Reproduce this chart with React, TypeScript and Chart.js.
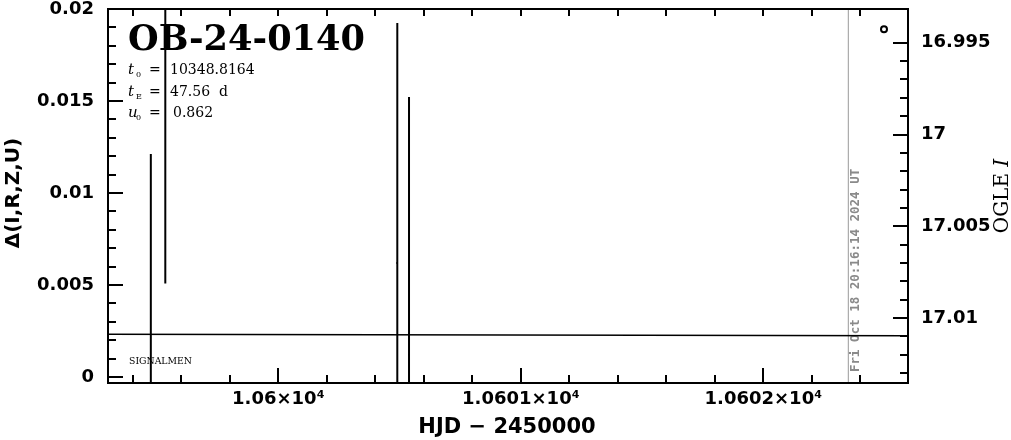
import React, { useEffect, useRef } from "react";
import { Chart, registerables } from "chart.js";

Chart.register(...registerables);

// Axis ranges
const X_MIN = 10599.2977;
const X_MAX = 10602.5967;
const Y_MIN = -0.000326;
const Y_MAX = 0.02;
const I_MIN = 16.99316;
const I_MAX = 17.01354;

// Tick values / labels
const X_TICKS = [10600, 10601, 10602];
const X_TICK_LABELS = ["1.06×10⁴", "1.0601×10⁴", "1.0602×10⁴"];
const Y_TICKS = [0, 0.005, 0.01, 0.015, 0.02];
const Y_TICK_LABELS = ["0", "0.005", "0.01", "0.015", "0.02"];
const I_TICKS = [16.995, 17, 17.005, 17.01];
const I_TICK_LABELS = ["16.995", "17", "17.005", "17.01"];

// SIGNALMEN error bars (Δ)
const BAR_HJD = [10599.4743, 10599.534, 10600.4907, 10600.539];
const BAR_LOW = [-0.012, 0.00508, -0.0068, -0.0128];
const BAR_HIGH = [0.01212, 0.03, 0.01924, 0.01522];
const MARK_HJD = [10600.4893, 10600.5377];
const MARK_DELTA = [0.0062, 0.0012];

// Model curve (OGLE I)
const MODEL_HJD = [10599.2977, 10600.95, 10602.5967];
const MODEL_I = [17.01088, 17.01093, 17.01097];

// OGLE data
const OGLE_HJD = [10602.4977];
const OGLE_I = [16.99427];

// Current time marker
const NOW_HJD = 10602.3505;
const NOW_LABEL = "Fri Oct 18 20:16:14 2024 UT";

const TITLE = "OB-24-0140";
const PARAM_SYMBOLS = ["t", "t", "u"];
const PARAM_SUBS = ["0", "E", "0"];
const PARAM_VALUES = ["10348.8164", "47.56  d", "0.862"];
const SURVEY = "SIGNALMEN";

const decorPlugin = {
  id: "decor",
  beforeDatasetsDraw(chart: any) {
    const { ctx, chartArea: a, scales } = chart;
    const px = scales.x.getPixelForValue(NOW_HJD);
    ctx.save();
    ctx.strokeStyle = "#999999";
    ctx.lineWidth = 1;
    ctx.beginPath();
    ctx.moveTo(px, a.top);
    ctx.lineTo(px, a.bottom);
    ctx.stroke();
    ctx.translate(px + 7, a.bottom - 11);
    ctx.rotate(-Math.PI / 2);
    ctx.fillStyle = "#8a8a8a";
    ctx.font = "bold 12.5px 'DejaVu Sans Mono'";
    ctx.textAlign = "left";
    ctx.textBaseline = "middle";
    ctx.fillText(NOW_LABEL, 0, 0);
    ctx.restore();
  },
  afterDatasetsDraw(chart: any) {
    const { ctx, chartArea: a, scales } = chart;
    const xs = scales.x;
    const ys = scales.y;
    const is = scales.y2;
    ctx.save();
    ctx.strokeStyle = "#000";
    ctx.lineWidth = 2;
    for (let k = Math.ceil(X_MIN / 0.2); k * 0.2 <= X_MAX; k++) {
      const v = k * 0.2;
      const p = Math.round(xs.getPixelForValue(v));
      const major = k % 5 === 0;
      ctx.beginPath();
      ctx.moveTo(p, a.bottom);
      ctx.lineTo(p, a.bottom - (major ? 15 : 8));
      ctx.moveTo(p, a.top);
      ctx.lineTo(p, a.top + 7);
      ctx.stroke();
    }
    for (let k = 0; k <= 20; k++) {
      const p = Math.round(ys.getPixelForValue(k * 0.001));
      const major = k % 5 === 0;
      ctx.beginPath();
      ctx.moveTo(a.left, p);
      ctx.lineTo(a.left + (major ? 15 : 8), p);
      ctx.stroke();
    }
    for (let k = 16995; k <= 17013; k++) {
      const p = Math.round(is.getPixelForValue(k / 1000));
      const major = k % 5 === 0;
      ctx.beginPath();
      ctx.moveTo(a.right, p);
      ctx.lineTo(a.right - (major ? 15 : 8), p);
      ctx.stroke();
    }
    ctx.strokeRect(a.left, a.top, a.right - a.left, a.bottom - a.top);
    ctx.restore();
  },
  afterDraw(chart: any) {
    const { ctx, chartArea: a } = chart;
    ctx.save();
    ctx.fillStyle = "#000";
    ctx.textAlign = "left";
    ctx.textBaseline = "alphabetic";
    ctx.font = "bold 36px 'DejaVu Serif'";
    ctx.fillText(TITLE, a.left + 20, 50, 237);
    const rows = [74, 96, 117];
    for (let i = 0; i < 3; i++) {
      const y = rows[i];
      ctx.font = "italic 15px 'DejaVu Serif'";
      ctx.fillText(PARAM_SYMBOLS[i], 128, y);
      ctx.font = "8px 'DejaVu Serif'";
      ctx.fillText(PARAM_SUBS[i], 136, y + 3);
      ctx.font = "14px 'DejaVu Serif'";
      ctx.fillText("=", 149, y);
      ctx.fillText(PARAM_VALUES[i], i === 2 ? 173 : 170, y);
    }
    ctx.font = "10px 'DejaVu Serif'";
    ctx.fillText(SURVEY, 129, 364, 63);
    ctx.textAlign = "center";
    ctx.textBaseline = "middle";
    ctx.font = "bold 21px 'DejaVu Sans'";
    ctx.fillText("HJD − 2450000", 507, 428);
    ctx.save();
    ctx.translate(14, 193);
    ctx.rotate(-Math.PI / 2);
    ctx.font = "bold 20px 'DejaVu Sans'";
    ctx.fillText("Δ(I,R,Z,U)", 0, 0);
    ctx.restore();
    ctx.save();
    ctx.translate(1003, 196);
    ctx.rotate(-Math.PI / 2);
    ctx.font = "20px 'DejaVu Serif'";
    const w1 = ctx.measureText("OGLE ").width;
    ctx.font = "italic 20px 'DejaVu Serif'";
    const w2 = ctx.measureText("I").width;
    ctx.textAlign = "left";
    ctx.font = "20px 'DejaVu Serif'";
    ctx.fillText("OGLE ", -(w1 + w2) / 2, 0);
    ctx.font = "italic 20px 'DejaVu Serif'";
    ctx.fillText("I", -(w1 + w2) / 2 + w1, 0);
    ctx.restore();
    ctx.restore();
  },
};

const noPad = (s: any) => {
  s.paddingTop = 0;
  s.paddingBottom = 0;
  s.paddingLeft = 0;
  s.paddingRight = 0;
};

export default function App() {
  const ref = useRef<HTMLCanvasElement | null>(null);
  useEffect(() => {
    if (!ref.current) return;
    const datasets: any[] = [];
    BAR_HJD.forEach((h, i) => {
      datasets.push({
        data: [
          { x: h, y: BAR_LOW[i] },
          { x: h, y: BAR_HIGH[i] },
        ],
        showLine: true,
        borderColor: "#000",
        borderWidth: 2,
        pointRadius: 0,
        yAxisID: "y",
      });
    });
    datasets.push({
      data: MARK_HJD.map((h, i) => ({ x: h, y: MARK_DELTA[i] })),
      pointStyle: "rect",
      pointRadius: 1,
      backgroundColor: "#000",
      borderWidth: 0,
      yAxisID: "y",
    });
    datasets.push({
      data: MODEL_HJD.map((h, i) => ({ x: h, y: MODEL_I[i] })),
      showLine: true,
      borderColor: "#000",
      borderWidth: 1.5,
      pointRadius: 0,
      yAxisID: "y2",
    });
    datasets.push({
      data: OGLE_HJD.map((h, i) => ({ x: h, y: OGLE_I[i] })),
      pointStyle: "circle",
      pointRadius: 3,
      borderWidth: 2,
      borderColor: "#000",
      backgroundColor: "rgba(0,0,0,0)",
      yAxisID: "y2",
    });
    const tickFont = { family: "'DejaVu Sans'", size: 18, weight: "bold" as const };
    const chart = new Chart(ref.current, {
      type: "scatter",
      data: { datasets },
      options: {
        animation: false,
        responsive: false,
        maintainAspectRatio: false,
        layout: { padding: { top: 9, left: 0, right: 0, bottom: 0 } },
        plugins: { legend: { display: false }, tooltip: { enabled: false } },
        scales: {
          x: {
            type: "linear",
            position: "bottom",
            min: X_MIN,
            max: X_MAX,
            grid: { display: false, drawTicks: false },
            border: { display: false },
            ticks: {
              color: "#000",
              font: tickFont,
              padding: 6,
              maxRotation: 0,
              autoSkip: false,
              callback: (_v: any, i: number) => X_TICK_LABELS[i],
            },
            afterBuildTicks: (s: any) => {
              s.ticks = X_TICKS.map((v) => ({ value: v }));
            },
            afterFit: (s: any) => {
              s.height = 57;
              noPad(s);
            },
          },
          y: {
            type: "linear",
            position: "left",
            min: Y_MIN,
            max: Y_MAX,
            grid: { display: false, drawTicks: false },
            border: { display: false },
            ticks: {
              color: "#000",
              font: tickFont,
              padding: 14,
              autoSkip: false,
              callback: (_v: any, i: number) => Y_TICK_LABELS[i],
            },
            afterBuildTicks: (s: any) => {
              s.ticks = Y_TICKS.map((v) => ({ value: v }));
            },
            afterFit: (s: any) => {
              s.width = 108;
              noPad(s);
            },
          },
          y2: {
            type: "linear",
            position: "right",
            reverse: true,
            min: I_MIN,
            max: I_MAX,
            grid: { display: false, drawTicks: false },
            border: { display: false },
            ticks: {
              color: "#000",
              font: tickFont,
              padding: 13,
              autoSkip: false,
              callback: (_v: any, i: number) => I_TICK_LABELS[i],
            },
            afterBuildTicks: (s: any) => {
              s.ticks = I_TICKS.map((v) => ({ value: v }));
            },
            afterFit: (s: any) => {
              s.width = 103;
              noPad(s);
            },
          },
        },
      },
      plugins: [decorPlugin],
    });
    return () => chart.destroy();
  }, []);
  return (
    <div style={{ position: "absolute", left: 0, top: 0, width: 1011, height: 440, background: "#fff" }}>
      <canvas ref={ref} width={1011} height={440} style={{ display: "block" }} />
    </div>
  );
}
